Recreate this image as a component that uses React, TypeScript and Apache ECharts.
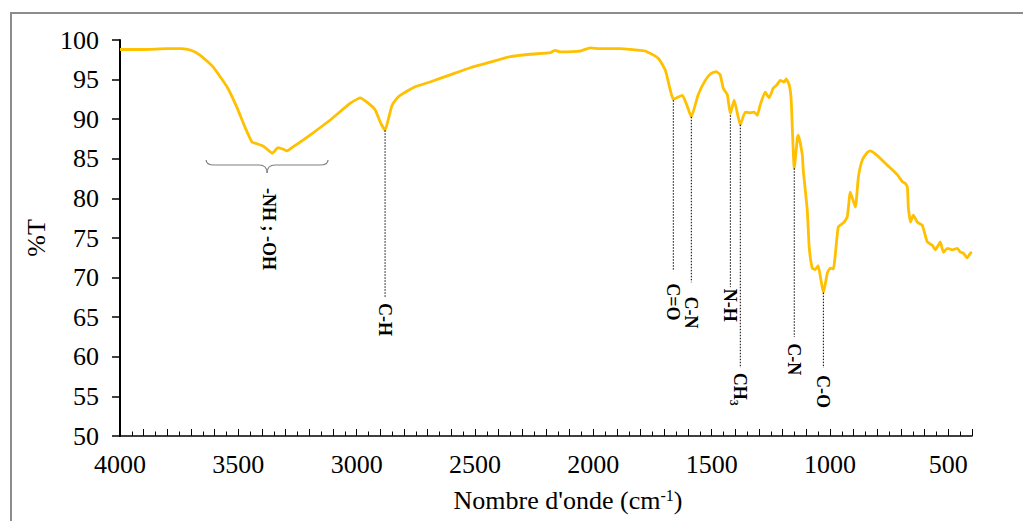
import React, { useEffect, useRef } from "react";
import * as echarts from "echarts";

// ---- Spectrum data (wavenumber cm-1, %T) ----
const wavenumbers = [
  4000, 3900, 3800, 3740, 3700, 3662, 3607, 3548, 3506, 3472, 3442, 3421, 3395, 3374, 3357, 3332, 3310, 3295, 3269,
  3197, 3112, 3028, 2994, 2985, 2950, 2922, 2900, 2880, 2867, 2850, 2825, 2795, 2753, 2690, 2605, 2520, 2436, 2351,
  2267, 2182, 2161, 2140, 2056, 2013, 1971, 1886, 1802, 1781, 1726, 1696, 1675, 1662, 1641, 1624, 1605, 1586, 1557,
  1527, 1502, 1481, 1464, 1451, 1434, 1421, 1405, 1379, 1358, 1337, 1320, 1307, 1295, 1274, 1257, 1240, 1223, 1210,
  1193, 1185, 1172, 1164, 1151, 1138, 1134, 1117, 1113, 1096, 1088, 1075, 1062, 1050, 1040, 1028, 1011, 999, 986,
  965, 944, 927, 914, 893, 880, 864, 842, 830, 800, 758, 716, 694, 682, 673, 669, 660, 648, 631, 610, 589, 568, 555,
  534, 521, 504, 483, 462, 449, 437, 420, 407, 400,
];
const transmittance = [
  98.8, 98.8, 98.9, 98.9, 98.7, 98.1, 96.6, 94.1, 91.5, 89.0, 87.1, 86.9, 86.6, 86.1, 85.7, 86.4, 86.2, 86.0, 86.5,
  88.0, 89.9, 92.0, 92.6, 92.7, 92.0, 91.2, 89.6, 88.6, 89.9, 91.8, 92.8, 93.4, 94.1, 94.7, 95.6, 96.5, 97.2, 97.9,
  98.2, 98.4, 98.7, 98.5, 98.6, 99.0, 98.9, 98.9, 98.7, 98.6, 97.7, 96.2, 93.7, 92.5, 92.8, 93.0, 91.8, 90.3, 93.1,
  94.9, 95.8, 96.0, 95.6, 93.9, 93.1, 90.7, 92.4, 89.3, 90.9, 90.8, 90.9, 90.5, 91.8, 93.4, 92.7, 93.9, 94.4, 94.9,
  94.7, 95.1, 94.3, 92.4, 83.8, 87.6, 88.0, 85.5, 83.6, 78.5, 73.9, 71.2, 71.0, 71.5, 70.0, 68.1, 70.6, 71.2, 71.1,
  76.4, 76.9, 77.7, 80.8, 78.9, 82.7, 84.8, 85.8, 86.0, 85.4, 84.2, 83.0, 82.1, 81.9, 81.4, 78.9, 77.0, 77.9, 77.0,
  76.6, 74.5, 74.1, 73.5, 74.5, 73.2, 73.7, 73.5, 73.7, 73.2, 73.1, 72.5, 73.1, 73.2,
];

// ---- Axes ----
const xMin = 400;
const xMax = 4000;
const xLabelStep = 500;
const yMin = 50;
const yMax = 100;
const yStep = 5;

// ---- Peak annotations ----
const peakWavenumbers = [2880, 1662, 1586, 1421, 1379, 1151, 1028];
const peakLineTop = [88.6, 92.4, 90.3, 90.5, 89.3, 83.8, 68.1];
const peakLineEnd = [67.5, 71.0, 69.4, 68.8, 58.6, 62.5, 58.6];
const peakLabelStart = [66.8, 69.3, 67.6, 68.6, 58.0, 61.7, 57.7];
const peakLabels = ["C-H", "C=O", "C-N", "N-H", "CH|3", "C-N", "C-O"];

// ---- Broad band annotation ----
const bandRange = [3636, 3121];
const bandTop = 84.85;
const bandLabelStart = 81.3;
const bandLabel = "-NH ; -OH";

const SERIF = "'Liberation Serif', 'Times New Roman', serif";

export default function App() {
  const ref = useRef<HTMLDivElement>(null);

  useEffect(() => {
    if (!ref.current) return;
    const chart = echarts.init(ref.current, null, { renderer: "svg" });
    const data = wavenumbers.map((w, i) => [w, transmittance[i]]);

    chart.setOption({
      animation: false,
      backgroundColor: "#ffffff",
      grid: { left: 120, top: 40, right: 51, bottom: 85 },
      xAxis: [
        {
          type: "value",
          inverse: true,
          min: xMin,
          max: xMax,
          interval: 100,
          position: "bottom",
          axisLine: { show: true, onZero: false, lineStyle: { color: "#000", width: 1.5 } },
          axisTick: { show: true, inside: true, length: 7, lineStyle: { color: "#000", width: 1 } },
          splitLine: { show: false },
          axisLabel: {
            showMinLabel: true,
            showMaxLabel: true,
            margin: 15,
            fontSize: 26,
            fontFamily: SERIF,
            color: "#000",
            formatter: (v: number) => (v % xLabelStep === 0 ? String(v) : ""),
          },
          name: "Nombre d'onde (cm{sup|-1})",
          nameLocation: "middle",
          nameGap: 51,
          nameTextStyle: {
            fontSize: 26,
            fontFamily: SERIF,
            color: "#000",
            padding: [0, 0, 0, 44],
            rich: {
              sup: { fontSize: 16, fontFamily: SERIF, color: "#000", verticalAlign: "top" },
            },
          },
        },
        {
          type: "value",
          inverse: true,
          min: xMin,
          max: xMax,
          interval: 50,
          position: "bottom",
          axisLine: { show: false, onZero: false },
          axisTick: { show: true, inside: true, length: 4.5, lineStyle: { color: "#000", width: 1 } },
          splitLine: { show: false },
          axisLabel: { show: false },
        },
      ],
      yAxis: {
        type: "value",
        min: yMin,
        max: yMax,
        interval: yStep,
        axisLine: { show: true, onZero: false, lineStyle: { color: "#000", width: 2 } },
        axisTick: { show: true, inside: false, length: 8, lineStyle: { color: "#000", width: 1.5 } },
        splitLine: { show: false },
        axisLabel: { margin: 21, fontSize: 26, fontFamily: SERIF, color: "#000" },
        name: "%T",
        nameLocation: "middle",
        nameGap: 70,
        nameTextStyle: { fontSize: 26, fontFamily: SERIF, color: "#000" },
      },
      series: [
        {
          type: "line",
          xAxisIndex: 0,
          yAxisIndex: 0,
          data,
          showSymbol: false,
          smooth: 0.15,
          lineStyle: { color: "#FFC000", width: 2.8 },
        },
      ],
    });

    const px = (w: number, v: number) =>
      chart.convertToPixel({ xAxisIndex: 0, yAxisIndex: 0 }, [w, v]) as number[];

    const graphics: any[] = [];
    graphics.push({
      type: "rect",
      shape: { x: 11, y: 13, width: 1030, height: 530 },
      style: { fill: "none", stroke: "#8c8c8c", lineWidth: 2 },
      z: 10,
    });

    const labelFont = { fontFamily: SERIF, fontWeight: "bold", fill: "#000" };

    peakWavenumbers.forEach((w, i) => {
      const a = px(w, peakLineTop[i]);
      const b = px(w, peakLineEnd[i]);
      const c = px(w, peakLabelStart[i]);
      graphics.push({
        type: "line",
        shape: { x1: a[0], y1: a[1], x2: b[0], y2: b[1] },
        style: { stroke: "#000", lineWidth: 1, lineDash: [1.5, 1.5] },
        z: 20,
      });
      const [main, sub] = peakLabels[i].split("|");
      const children: any[] = [
        {
          type: "text",
          x: 0,
          y: 0,
          style: { ...labelFont, text: main, fontSize: 18, align: "left", verticalAlign: "middle" },
        },
      ];
      if (sub) {
        children.push({
          type: "text",
          x: 27,
          y: 6,
          style: { ...labelFont, text: sub, fontSize: 12, align: "left", verticalAlign: "middle" },
        });
      }
      graphics.push({ type: "group", x: c[0], y: c[1], rotation: -Math.PI / 2, children, z: 20 });
    });

    // curly brace
    const L = px(bandRange[0], bandTop);
    const R = px(bandRange[1], bandTop);
    const T = L[1];
    const M = T + 5;
    const P = T + 13;
    const C = (L[0] + R[0]) / 2;
    const braceStyle = { stroke: "#7f7f7f", lineWidth: 1.2, fill: "none" };
    const braceParts = [
      { type: "bezierCurve", shape: { x1: L[0], y1: T, cpx1: L[0], cpy1: M, x2: L[0] + 8, y2: M } },
      { type: "line", shape: { x1: L[0] + 8, y1: M, x2: C - 8, y2: M } },
      { type: "bezierCurve", shape: { x1: C - 8, y1: M, cpx1: C, cpy1: M, x2: C, y2: P } },
      { type: "bezierCurve", shape: { x1: C, y1: P, cpx1: C, cpy1: M, x2: C + 8, y2: M } },
      { type: "line", shape: { x1: C + 8, y1: M, x2: R[0] - 8, y2: M } },
      { type: "bezierCurve", shape: { x1: R[0] - 8, y1: M, cpx1: R[0], cpy1: M, x2: R[0], y2: T } },
    ];
    braceParts.forEach((p) => graphics.push({ ...p, style: braceStyle, z: 20 }));
    const bl = px((bandRange[0] + bandRange[1]) / 2, bandLabelStart);
    graphics.push({
      type: "text",
      x: bl[0] + 2,
      y: bl[1],
      rotation: -Math.PI / 2,
      style: { ...labelFont, text: bandLabel, fontSize: 18, align: "left", verticalAlign: "middle" },
      z: 20,
    });

    chart.setOption({ graphic: graphics });

    return () => chart.dispose();
  }, []);

  return (
    <div
      ref={ref}
      style={{ position: "absolute", left: 0, top: 0, width: 1023, height: 521, background: "#fff" }}
    />
  );
}
